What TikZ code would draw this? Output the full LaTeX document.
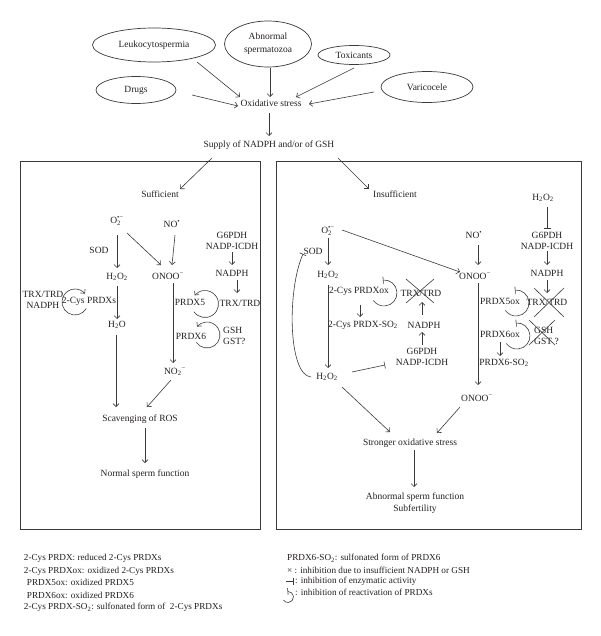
\documentclass[tikz,border=0pt]{standalone}
\usepackage{fontspec}
\setmainfont{Liberation Serif}
\usetikzlibrary{arrows.meta,shapes.geometric,calc}
\definecolor{ink}{HTML}{231F20}
\definecolor{ln}{HTML}{3A3A3A}
\newcommand\Otwo{O\makebox[0pt][l]{\textsubscript{2}}\textsuperscript{\textbullet−}}
\begin{document}
\begin{tikzpicture}[x=1pt,y=-1pt,
  every node/.style={font=\fontsize{9.5}{10.5}\selectfont, text=ink, inner sep=1pt},
  oval/.style={draw=ln, line width=0.7pt, ellipse, inner sep=0pt},
  arr/.style={draw=ln, line width=0.6pt, -{Straight Barb[length=3pt,width=6pt]}},
  inh/.style={draw=ln, line width=0.6pt, -{Bar[width=7pt]}},
  inhr/.style={draw=ln, line width=0.6pt, {Bar[width=7pt]}-},
  plain/.style={draw=ln, line width=0.6pt},
  frame/.style={draw=ln, line width=0.8pt},
  leg/.style={anchor=west, font=\fontsize{9.2}{10}\selectfont}]
\useasboundingbox (0,0) rectangle (600,636);

% ---------- top ----------
\node[oval, minimum width=123pt, minimum height=34pt] (leuk) at (154,45) {Leukocytospermia};
\node[oval, minimum width=87pt, minimum height=46pt, align=center, font=\fontsize{9.5}{13}\selectfont] (abn) at (268,44) {Abnormal\\spermatozoa};
\node[oval, minimum width=72pt, minimum height=19pt] (tox) at (354,55) {Toxicants};
\node[oval, minimum width=80pt, minimum height=27pt] (drugs) at (136,90) {Drugs};
\node[oval, minimum width=92pt, minimum height=31pt] (vari) at (427,87) {Varicocele};
\node (ox) at (271,103) {Oxidative stress};
\node (supply) at (269,145) {Supply of NADPH and/or of GSH};

\draw[arr] ($(leuk)+(43,17)$) -- ($(ox)+(-31,-6)$);
\draw[arr] ($(abn)+(2,24)$) -- ($(ox)+(-1,-6)$);
\draw[arr] ($(tox)+(0,13)$) -- ($(ox)+(25,-6)$);
\draw[arr] ($(drugs)+(56,5)$) -- ($(ox)+(-33,3)$);
\draw[arr] ($(vari)+(-53,5)$) -- ($(ox)+(38,1)$);
\draw[arr] ($(ox)+(-2,10)$) -- ($(supply)+(0,-9)$);

% ---------- boxes ----------
\draw[frame] (20.7,161) rectangle (260,529);
\draw[frame] (276,161) rectangle (581,529);

% ---------- left box ----------
\node (suff) at (160,194) {Sufficient};
\node (lO2) at (117,221) {\Otwo};
\node (lNO) at (172,224) {NO\textsuperscript{\textbullet}};
\node[align=center] (lG6) at (232,241) {G6PDH\\NADP-ICDH};
\node (lSOD) at (99,250) {SOD};
\node (lH2O2) at (117,277) {H\textsubscript{2}O\textsubscript{2}};
\node (lONOO) at (168,276) {ONOO\textsuperscript{−}};
\node (lNADPH) at (232,273) {NADPH};
\node (lTRX) at (240,303) {TRX/TRD};
\node (lPRDX5) at (190,302) {PRDX5};
\node[align=center] (lTRXN) at (43,300) {TRX/TRD\\NADPH};
\node (l2cys) at (89,301) {2-Cys PRDXs};
\node (lH2O) at (117,325) {H\textsubscript{2}O};
\node (lPRDX6) at (191,336) {PRDX6};
\node[align=left, anchor=west] (lGSH) at (222,336) {GSH\\GST?};
\node (lNO2) at (175,372) {NO\textsubscript{2}\textsuperscript{−}};
\node (lscav) at (140,419) {Scavenging of ROS};
\node (lnormal) at (145,474) {Normal sperm function};

\draw[arr] ($(supply)+(-57,13)$) -- ($(suff)+(20,-5)$);
\draw[arr] ($(lO2)+(0,14)$) -- ($(lH2O2)+(0,-9)$);
\draw[arr] ($(lO2)+(10,12)$) -- ($(lONOO)+(-7,-11)$);
\draw[arr] ($(lNO)+(3,11)$) -- ($(lONOO)+(4,-11)$);
\draw[arr] ($(lG6)+(0,11)$) -- ($(lNADPH)+(0,-8)$);
\draw[arr] ($(lNADPH)+(5,7)$) -- ($(lTRX)+(-3,-10)$);
\draw[arr] ($(lH2O2)+(0,9)$) -- ($(lH2O)+(0,-6)$);
\draw[arr] ($(lH2O)+(-1,10)$) -- ($(lscav)+(-24,-12)$);
\draw[arr] ($(lONOO)+(5,7)$) -- ($(lNO2)+(-2,-9)$);
\draw[arr] ($(lNO2)+(-4,8)$) -- ($(lscav)+(7,-12)$);
\draw[arr] ($(lscav)+(5,9)$) -- ($(lnormal)+(0,-11)$);
% recycling circles
\draw[arr] ($(l2cys)+(-14,1)+(30:13)$) arc[start angle=30, end angle=320, radius=13];
\draw[arr] ($(lPRDX5)+(15,2)+(-215:13.5)$) arc[start angle=-215, end angle=-500, radius=13.5];
\draw[arr] ($(lPRDX6)+(16,-1)+(-215:13)$) arc[start angle=-215, end angle=-500, radius=13];

% ---------- right box ----------
\node (insuff) at (395,194) {Insufficient};
\node (rH2O2a) at (543,198) {H\textsubscript{2}O\textsubscript{2}};
\node[align=center] (rG6) at (547,241) {G6PDH\\NADP-ICDH};
\node (rNADPH) at (547,273) {NADPH};
\node (rTRX) at (547,302) {TRX/TRD};
\node (rO2) at (328,231) {\Otwo};
\node (rNO) at (474,235) {NO\textsuperscript{\textbullet}};
\node (rONOO) at (475,276) {ONOO\textsuperscript{−}};
\node (rSOD) at (313,251) {SOD};
\node (rH2O2) at (328,275) {H\textsubscript{2}O\textsubscript{2}};
\node (rH2O2b) at (327,377) {H\textsubscript{2}O\textsubscript{2}};
\node (rPRDXox) at (359,291) {2-Cys PRDXox};
\node (rSO2) at (363,325) {2-Cys PRDX-SO\textsubscript{2}};
\node (rTRXm) at (421,293) {TRX/TRD};
\node (rNADPHm) at (424,325) {NADPH};
\node[align=center] (rG6m) at (422,357) {G6PDH\\NADP-ICDH};
\node (rPRDX5ox) at (500,301) {PRDX5ox};
\node (rPRDX6ox) at (500,334) {PRDX6ox};
\node (rPRDX6SO2) at (504,363) {PRDX6-SO\textsubscript{2}};
\node[align=left, anchor=west] (rGSH) at (533,336) {GSH\\GST ?};
\node (rONOOb) at (477,398) {ONOO\textsuperscript{−}};
\node (stronger) at (410,443) {Stronger oxidative stress};
\node[align=center, font=\fontsize{9.5}{12}\selectfont] (abnormal) at (415,503) {Abnormal sperm function\\Subfertility};

\draw[arr] ($(supply)+(69,13)$) -- ($(insuff)+(-26,-5)$);
\draw[inh] ($(rH2O2a)+(4,9)$) -- ($(rG6)+(0,-12)$);
\draw[arr] ($(rG6)+(0,10)$) -- ($(rNADPH)+(0,-8)$);
\draw[arr] ($(rNADPH)+(0,7)$) -- ($(rTRX)+(0,-9)$);
\draw[arr] ($(rO2)+(14,-1)$) -- ($(rONOO)+(-15,-4)$);
\draw[arr] ($(rNO)+(4,10)$) -- ($(rONOO)+(3,-11)$);
\draw[arr] ($(rO2)+(0,7)$) -- ($(rH2O2)+(0,-10)$);
\draw[arr] ($(rH2O2)+(0,10)$) -- ($(rH2O2b)+(1,-9)$);
\draw[arr] ($(rPRDXox)+(1,14)$) -- ($(rSO2)+(-3,-8)$);
\draw[arr] ($(rNADPHm)+(-2,-10)$) -- ($(rTRXm)+(1,9)$);
\draw[arr] ($(rG6m)+(0,-12)$) -- ($(rNADPHm)+(-2,7)$);
\draw[inh] ($(rH2O2b)+(25,-5)$) -- ($(rG6m)+(-37,8)$);
\draw[inh] ($(rH2O2b)+(-16,0)$) .. controls ($(rH2O2b)+(-39,-2)$) and ($(rH2O2b)+(-40,-87)$) .. ($(rSOD)+(-10,3)$);
\draw[arr] ($(rH2O2b)+(15,10)$) -- ($(stronger)+(-20,-11)$);
\draw[arr] ($(rONOO)+(3,7)$) -- ($(rONOOb)+(1,-13)$);
\draw[arr] ($(rONOOb)+(-17,9)$) -- ($(stronger)+(27,-10)$);
\draw[arr] ($(stronger)+(4,7)$) -- ($(abnormal)+(-1,-16)$);
\draw[arr] ($(rPRDX6ox)+(0,8)$) -- ($(rPRDX6SO2)+(-4,-7)$);
% blocked reactivation arcs
\draw[inhr] ($(rPRDXox)+(25,2)+(-95:13)$) arc[start angle=-95, end angle=145, radius=13];
\draw[inhr] ($(rPRDX5ox)+(16,2)+(-95:13)$) arc[start angle=-95, end angle=145, radius=13];
\draw[inhr] ($(rPRDX6ox)+(17,2)+(-95:13)$) arc[start angle=-95, end angle=145, radius=13];
% crosses
\draw[plain] ($(rTRXm)+(-15,-14)$) -- ($(rTRXm)+(13,10)$);
\draw[plain] ($(rTRXm)+(13,-14)$) -- ($(rTRXm)+(-15,10)$);
\draw[plain] ($(rTRX)+(-13,-14)$) -- ($(rTRX)+(17,15)$);
\draw[plain] ($(rTRX)+(17,-14)$) -- ($(rTRX)+(-13,15)$);
\draw[plain] ($(rGSH.west)+(-4,-16)$) -- ($(rGSH.west)+(22,9)$);
\draw[plain] ($(rGSH.west)+(22,-16)$) -- ($(rGSH.west)+(-4,9)$);

% ---------- legend ----------
\node[leg] (k1) at (22.7,558.7) {2-Cys PRDX: reduced 2-Cys PRDXs};
\node[leg] (k2) at (22.7,571) {2-Cys PRDXox: oxidized 2-Cys PRDXs};
\node[leg] (k3) at (25.7,582.7) {PRDX5ox: oxidized PRDX5};
\node[leg] (k4) at (25.7,595) {PRDX6ox: oxidized PRDX6};
\node[leg] (k5) at (22.7,607.7) {2-Cys PRDX-SO\textsubscript{2}: sulfonated form of \ 2-Cys PRDXs};
\node[leg] (k6) at (286,558.3) {PRDX6-SO\textsubscript{2}: sulfonated form of PRDX6};
\node[leg] (k7) at (286,570) {× : inhibition due to insufficient NADPH or GSH};
\node[leg] (k8) at (294,581) {: inhibition of enzymatic activity};
\node[leg] (k9) at (294,592) {: inhibition of reactivation of PRDXs};
\draw[inh] ($(k8.west)+(-8,0)$) -- ($(k8.west)+(-0.5,0)$);
\draw[inhr] ($(k9.west)+(-6,5)+(-95:5.5)$) arc[start angle=-95, end angle=145, radius=5.5];
\end{tikzpicture}
\end{document}
